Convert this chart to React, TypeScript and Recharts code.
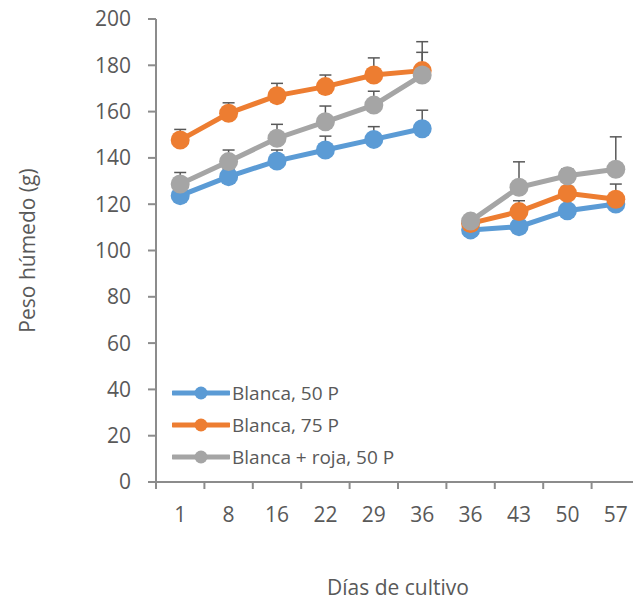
import React from "react"
import { LineChart, Line, XAxis, YAxis, ErrorBar, Legend } from "recharts"

const days = ["1", "8", "16", "22", "29", "36", "36", "43", "50", "57"]
// the line breaks after the 6th point (two culture periods)
const splitAt = 6

const blanca50 = [123.7, 131.9, 138.7, 143.4, 148.0, 152.6, 108.9, 110.3, 117.2, 120.1]
const blanca50Err = [3, 3, 4.7, 6, 5.5, 8, 2, 2, 2, 2]
const blanca75 = [147.7, 159.3, 166.9, 170.8, 175.8, 177.7, 111.7, 116.8, 124.7, 122.1]
const blanca75Err = [4.6, 4.5, 5.3, 5, 7.4, 12.5, 2, 4.7, 3, 6.6]
const blancaRoja = [128.7, 138.4, 148.5, 155.6, 162.8, 175.8, 112.7, 127.3, 132.3, 135.1]
const blancaRojaErr = [5, 5, 6, 6.8, 6, 9.8, 2, 11, 3, 14]

const yTicks = [0, 20, 40, 60, 80, 100, 120, 140, 160, 180, 200]

const series = [
	{ key: "b50", name: "Blanca, 50 P", color: "#5B9BD5", values: blanca50, errs: blanca50Err },
	{ key: "b75", name: "Blanca, 75 P", color: "#ED7D31", values: blanca75, errs: blanca75Err },
	{ key: "br50", name: "Blanca + roja, 50 P", color: "#A5A5A5", values: blancaRoja, errs: blancaRojaErr },
]

const data = days.map((day, i) => {
	const row: Record<string, any> = { idx: i, day }
	series.forEach((s) => {
		const seg = i < splitAt ? "a" : "b"
		const other = i < splitAt ? "b" : "a"
		row[s.key + seg] = s.values[i]
		row[s.key + seg + "Err"] = [0, s.errs[i]]
		row[s.key + other] = null
		row[s.key + other + "Err"] = null
	})
	return row
})

const FONT = "'Open Sans', sans-serif"
const TEXT = "#595959"
const AXIS = "#8C8C8C"
const BAND = (640 - 156) / days.length

const XTick = (props: any) => {
	const { x, y, payload } = props
	return (
		<g>
			<line x1={x - BAND / 2} y1={y} x2={x - BAND / 2} y2={y + 7} stroke={AXIS} strokeWidth={2} />
			<text x={x} y={y + 34} textAnchor="middle" dominantBaseline="middle" fill={TEXT} fontSize={21} fontFamily={FONT}>
				{days[payload.value]}
			</text>
		</g>
	)
}

const LegendBox = () => (
	<div style={{ fontFamily: FONT, fontSize: 19, color: TEXT }}>
		{series.map((s) => (
			<div key={s.key} style={{ display: "flex", alignItems: "center", height: 32 }}>
				<svg width={58} height={20}>
					<line x1={1} y1={10} x2={57} y2={10} stroke={s.color} strokeWidth={5} strokeLinecap="round" />
					<circle cx={29} cy={10} r={6.5} fill={s.color} />
				</svg>
				<span style={{ marginLeft: 2, whiteSpace: "nowrap" }}>{s.name}</span>
			</div>
		))}
	</div>
)

export default function App() {
	return (
		<div style={{ position: "absolute", left: 0, top: 0, width: 633, height: 601, overflow: "hidden", background: "#fff" }}>
			<LineChart width={640} height={601} data={data} margin={{ top: 19, right: 0, bottom: 0, left: 0 }}>
				<XAxis
					dataKey="idx"
					type="category"
					scale="band"
					height={119}
					tick={<XTick />}
					tickLine={false}
					tickSize={0}
					tickMargin={0}
					axisLine={{ stroke: AXIS, strokeWidth: 2 }}
					interval={0}
					label={{
						value: "Días de cultivo",
						position: "insideBottom",
						offset: 6,
						fill: TEXT,
						fontSize: 21,
						fontFamily: FONT,
					}}
				/>
				<YAxis
					type="number"
					domain={[0, 200]}
					ticks={yTicks}
					width={156}
					interval={0}
					tickSize={8}
					tickMargin={17}
					tick={{ fill: TEXT, fontSize: 21, fontFamily: FONT }}
					tickLine={{ stroke: AXIS, strokeWidth: 2 }}
					axisLine={{ stroke: AXIS, strokeWidth: 2 }}
					label={{
						value: "Peso húmedo (g)",
						angle: -90,
						position: "insideLeft",
						offset: 28,
						fill: TEXT,
						fontSize: 21,
						fontFamily: FONT,
						style: { textAnchor: "middle" },
					}}
				/>
				<Legend
					verticalAlign="middle"
					align="center"
					content={<LegendBox />}
					wrapperStyle={{ left: 172, top: 377, width: 280 }}
				/>
				{series.flatMap((s) =>
					["a", "b"].map((seg) => (
						<Line
							key={s.key + seg}
							dataKey={s.key + seg}
							name={s.name}
							stroke={s.color}
							strokeWidth={5}
							dot={{ r: 9.5, fill: s.color, stroke: s.color, strokeWidth: 0 }}
							activeDot={false}
							isAnimationActive={false}
							legendType={seg === "a" ? "line" : "none"}
						>
							<ErrorBar dataKey={s.key + seg + "Err"} direction="y" width={6} stroke="#595959" strokeWidth={1.5} />
						</Line>
					)),
				)}
			</LineChart>
		</div>
	)
}
